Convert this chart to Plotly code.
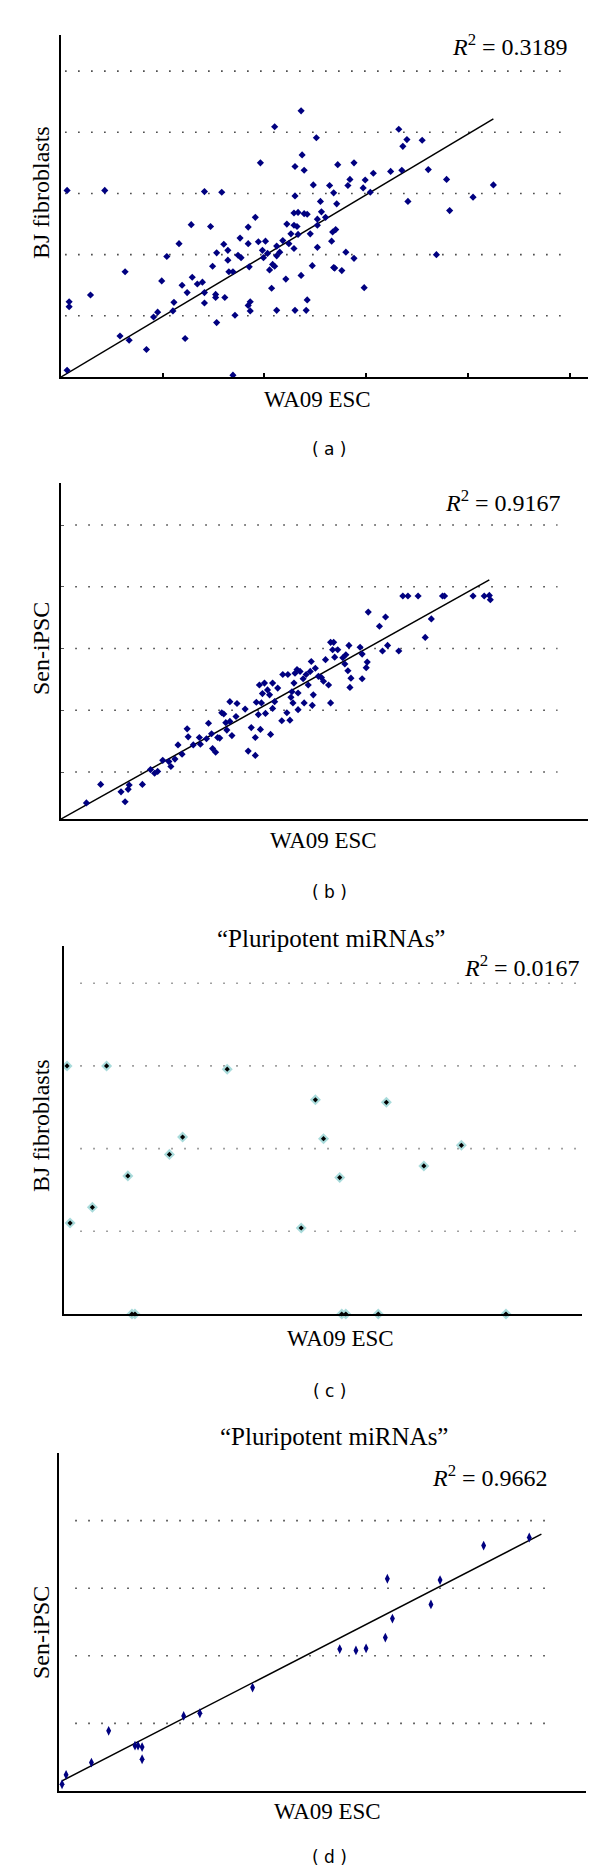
import plotly.graph_objects as go

W, H = 600, 1866

# ---------------- data (arbitrary units) ----------------
# Panel (a): WA09 ESC vs BJ fibroblasts (all miRNAs)
a_x = [0.06, 0.43, 0.08, 0.08, 0.29, 0.06, 0.63, 0.58, 0.67, 0.84, 0.91, 0.95, 0.99, 1.04, 1.10,
       1.11, 1.16, 1.19, 1.22, 1.24, 1.28, 1.29, 1.34, 1.39, 1.41, 1.41, 1.41, 1.47, 1.49, 1.52,
       1.52, 1.53, 1.53, 1.58, 1.60, 1.61, 1.64, 1.64, 1.65, 1.69, 1.69, 1.71, 1.74, 1.77, 1.76,
       1.84, 1.84, 1.85, 1.84, 1.86, 1.86, 1.91, 1.94, 1.96, 1.98, 1.99, 2.01, 2.03, 2.05, 2.07,
       2.08, 2.10, 2.10, 2.12, 2.12, 2.12, 2.15, 2.18, 2.21, 2.22, 2.24, 2.26, 2.29, 2.29, 2.30,
       2.30, 2.29, 2.32, 2.30, 2.33, 2.33, 2.36, 2.37, 2.36, 2.39, 2.39, 2.42, 2.42, 2.41, 2.45,
       2.47, 2.48, 2.51, 2.52, 2.52, 2.52, 2.55, 2.56, 2.60, 2.64, 2.66, 2.67, 2.68, 2.68, 2.69,
       2.70, 2.71, 2.72, 2.76, 2.80, 2.82, 2.84, 2.88, 2.88, 2.97, 2.98, 2.99, 3.04, 3.07, 3.24,
       3.32, 3.35, 3.36, 3.40, 3.41, 3.55, 3.61, 3.69, 3.79, 3.82, 4.05, 4.25]
a_y = [3.05, 3.05, 1.23, 1.15, 1.34, 0.11, 1.72, 0.67, 0.60, 0.45, 0.98, 1.06, 1.57, 1.97, 1.08,
       1.22, 2.18, 1.50, 0.63, 1.38, 2.49, 1.63, 1.52, 1.55, 3.03, 1.38, 1.21, 2.46, 1.81, 1.35,
       1.30, 2.03, 0.89, 3.02, 2.17, 1.30, 2.07, 1.91, 1.72, 1.72, 0.03, 1.01, 1.99, 1.95, 2.27,
       2.18, 2.45, 1.80, 1.17, 1.23, 1.08, 2.61, 2.21, 3.50, 2.07, 1.95, 2.22, 2.02, 1.75, 1.45,
       1.84, 1.81, 4.09, 2.14, 1.98, 1.09, 2.04, 2.23, 1.60, 2.50, 2.18, 2.34, 2.10, 2.48, 3.44,
       2.96, 2.68, 2.46, 1.09, 2.69, 2.33, 4.35, 3.63, 1.66, 3.38, 2.67, 2.66, 1.26, 1.09, 2.34,
       1.82, 3.14, 3.91, 2.58, 2.48, 2.12, 2.87, 2.70, 2.61, 3.13, 2.22, 2.37, 3.01, 1.79, 1.78,
       2.41, 2.83, 3.47, 1.74, 2.04, 3.13, 3.23, 3.50, 1.94, 3.09, 1.46, 3.22, 3.02, 3.33, 3.36,
       4.05, 3.38, 3.77, 3.88, 2.87, 3.87, 3.39, 2.00, 3.23, 2.72, 2.94, 3.14]
a_fit_x = [0.0, 4.25]
a_fit_y = [0.0, 4.22]

# Panel (b): WA09 ESC vs Sen-iPSC (all miRNAs)
b_x = [0.05, 0.25, 0.39, 0.54, 0.59, 0.63, 0.66, 0.67, 0.80, 0.88, 0.92, 0.95, 1.00, 1.06, 1.08,
       1.12, 1.15, 1.19, 1.24, 1.25, 1.30, 1.36, 1.37, 1.43, 1.45, 1.48, 1.49, 1.52, 1.54, 1.56,
       1.58, 1.60, 1.62, 1.63, 1.66, 1.66, 1.68, 1.72, 1.73, 1.81, 1.84, 1.87, 1.91, 1.91, 1.92,
       1.94, 1.95, 1.96, 1.97, 1.98, 2.00, 2.01, 2.03, 2.05, 2.06, 2.08, 2.08, 2.10, 2.13, 2.17,
       2.18, 2.23, 2.22, 2.25, 2.26, 2.27, 2.28, 2.29, 2.30, 2.32, 2.33, 2.33, 2.35, 2.38, 2.39,
       2.41, 2.43, 2.45, 2.46, 2.47, 2.48, 2.50, 2.53, 2.56, 2.58, 2.60, 2.63, 2.65, 2.65, 2.67,
       2.68, 2.69, 2.72, 2.77, 2.79, 2.80, 2.83, 2.82, 2.85, 2.84, 2.94, 2.96, 2.96, 3.00, 3.01,
       3.02, 3.13, 3.16, 3.19, 3.21, 3.32, 3.36, 3.41, 3.51, 3.58, 3.64, 3.75, 3.77, 4.05, 4.16,
       4.21, 4.22]
b_y = [0.21, 0.50, 0.80, 0.20, 0.68, 0.52, 0.72, 0.79, 0.80, 1.04, 0.98, 1.01, 1.19, 1.17, 1.09,
       1.21, 1.44, 1.29, 1.70, 1.57, 1.44, 1.56, 1.45, 1.54, 1.79, 1.62, 1.38, 1.32, 1.56, 1.55,
       1.96, 1.94, 1.80, 1.68, 2.14, 1.82, 1.59, 1.90, 2.11, 2.02, 1.34, 1.72, 1.27, 1.56, 2.13,
       1.93, 2.41, 1.69, 2.12, 2.27, 2.44, 1.95, 2.33, 2.25, 1.61, 2.44, 2.03, 2.14, 2.36, 1.83,
       2.58, 2.58, 1.96, 1.84, 2.21, 2.30, 2.12, 2.44, 2.60, 2.66, 2.28, 2.01, 2.63, 2.51, 2.12,
       2.58, 2.41, 2.63, 2.79, 2.08, 2.25, 2.68, 2.55, 2.53, 2.47, 2.82, 2.41, 3.10, 2.12, 2.98,
       3.10, 2.86, 2.98, 2.85, 2.75, 2.90, 3.05, 2.64, 2.52, 2.37, 3.02, 2.91, 2.51, 2.69, 2.78,
       3.59, 3.36, 2.96, 3.51, 3.05, 2.96, 3.85, 3.85, 3.85, 3.18, 3.48, 3.85, 3.85, 3.85, 3.85,
       3.86, 3.79]
b_fit_x = [0.0, 4.21]
b_fit_y = [0.24, 4.11]

# Panel (c): "Pluripotent miRNAs", WA09 ESC vs BJ fibroblasts
c_x = [0.03, 0.42, 1.61, 2.48, 3.18, 1.17, 2.56, 1.04, 3.92, 3.55, 0.63, 2.72, 0.28, 0.06, 2.34,
       0.67, 0.70, 2.74, 2.78, 3.10, 4.36]
c_y = [3.00, 3.00, 2.96, 2.59, 2.56, 2.14, 2.12, 1.93, 2.04, 1.79, 1.67, 1.65, 1.29, 1.10, 1.04,
       0.00, 0.00, 0.00, 0.00, 0.00, 0.00]

# Panel (d): "Pluripotent miRNAs", WA09 ESC vs Sen-iPSC
d_x = [0.03, 0.07, 0.32, 0.49, 0.75, 0.78, 0.82, 0.82, 1.23, 1.39, 1.91, 2.77, 2.93, 3.03, 3.22,
       3.29, 3.24, 3.67, 3.76, 4.19, 4.64]
d_y = [0.10, 0.24, 0.42, 0.89, 0.67, 0.67, 0.65, 0.47, 1.11, 1.15, 1.53, 2.10, 2.08, 2.11, 2.27,
       2.55, 3.14, 2.76, 3.12, 3.63, 3.75]
d_fit_x = [0.03, 4.76]
d_fit_y = [0.15, 3.80]

a_grid = [1, 2, 3, 4, 5]
b_grid = [1, 2, 3, 4, 5]
c_grid = [1, 2, 3, 4]
d_grid = [1, 2, 3, 4]
a_ticks = [0, 1, 2, 3, 4, 5]

a_r2 = "0.3189"
b_r2 = "0.9167"
c_r2 = "0.0167"
d_r2 = "0.9662"

x_title = "WA09 ESC"
panel_title = "\u201cPluripotent miRNAs\u201d"

# ---------------- layout helpers ----------------
SERIF = "Liberation Serif, Times New Roman, serif"
SANS = "DejaVu Sans, Arial, sans-serif"
NAVY = "#000080"


def pxx(x):
    return x / W


def pyy(y):
    return 1 - y / H


fig = go.Figure()

panels = [
    dict(k="", xd=(53, 580), yd=(27, 369), xr=(0, 5.18), yr=(0, 5.59),
         grid=a_grid, gx=(0.04, 4.98), gcol="#444", ticks=a_ticks, yticks=False,
         r2=a_r2, r2pos=(562, 37), xt=(309, 392), lab="( a )", labpos=(321, 441),
         yt="BJ fibroblasts", ytpos=(33, 185), title=None),
    dict(k="2", xd=(53, 580), yd=(475, 811), xr=(0, 5.18), yr=(0.24, 5.68),
         grid=b_grid, gx=(0.14, 4.88), gcol="#444", ticks=None, yticks=True,
         r2=b_r2, r2pos=(555, 493), xt=(316, 833), lab="( b )", labpos=(321, 884),
         yt="Sen-iPSC", ytpos=(33, 641), title=None),
    dict(k="3", xd=(56, 574), yd=(938, 1306), xr=(0, 5.11), yr=(0, 4.45),
         grid=c_grid, gx=(0.16, 5.09), gcol="#8a8a8a", ticks=None, yticks=False,
         r2=c_r2, r2pos=(574, 958), xt=(332, 1330), lab="( c )", labpos=(321, 1383),
         yt="BJ fibroblasts", ytpos=(33, 1118), title=(323, 930)),
    dict(k="4", xd=(51, 578), yd=(1445, 1783), xr=(0, 5.2), yr=(0, 5.0),
         grid=d_grid, gx=(0.16, 4.84), gcol="#444", ticks=None, yticks=False,
         r2=d_r2, r2pos=(542, 1468), xt=(319, 1803), lab="( d )", labpos=(321, 1849),
         yt="Sen-iPSC", ytpos=(33, 1625), title=(326, 1428)),
]

series = [
    (a_x, a_y, a_fit_x, a_fit_y),
    (b_x, b_y, b_fit_x, b_fit_y),
    (c_x, c_y, None, None),
    (d_x, d_y, d_fit_x, d_fit_y),
]

annotations = []
shapes = []

for i, (p, (sx, sy, fx, fy)) in enumerate(zip(panels, series)):
    k = p["k"]
    xa, ya = "x" + k, "y" + k
    xkey, ykey = "xaxis" + k, "yaxis" + k

    # gridlines (dotted), limited extent
    for g in p["grid"]:
        shapes.append(dict(type="line", xref=xa, yref=ya, x0=p["gx"][0], x1=p["gx"][1],
                           y0=g, y1=g, line=dict(color=p["gcol"], width=1.6, dash="1.6px,11.4px"),
                           layer="below"))

    if fx is not None:
        fig.add_trace(go.Scatter(x=fx, y=fy, mode="lines", xaxis=xa, yaxis=ya,
                                 line=dict(color="black", width=1.5), showlegend=False,
                                 hoverinfo="skip"))

    if i == 2:
        fig.add_trace(go.Scatter(x=sx, y=sy, mode="markers", xaxis=xa, yaxis=ya,
                                 marker=dict(symbol="diamond", size=8.5, color="#a9dbdb",
                                             line=dict(width=0)),
                                 cliponaxis=False, showlegend=False))
        fig.add_trace(go.Scatter(x=sx, y=sy, mode="markers", xaxis=xa, yaxis=ya,
                                 marker=dict(symbol="diamond", size=4, color="black",
                                             line=dict(width=0)),
                                 cliponaxis=False, showlegend=False))
    elif i == 3:
        fig.add_trace(go.Scatter(x=sx, y=sy, mode="markers", xaxis=xa, yaxis=ya,
                                 marker=dict(symbol="diamond-tall", size=7, color=NAVY,
                                             line=dict(width=0)),
                                 cliponaxis=False, showlegend=False))
    else:
        fig.add_trace(go.Scatter(x=sx, y=sy, mode="markers", xaxis=xa, yaxis=ya,
                                 marker=dict(symbol="diamond", size=5.5, color=NAVY,
                                             line=dict(width=0)),
                                 cliponaxis=False, showlegend=False))

    xaxis = dict(domain=[pxx(p["xd"][0]), pxx(p["xd"][1])], range=list(p["xr"]),
                 anchor=ya, showgrid=False, zeroline=False, showline=True,
                 linecolor="black", linewidth=2, showticklabels=False, fixedrange=True)
    if p["ticks"] is not None:
        xaxis.update(ticks="inside", tickvals=p["ticks"], ticklen=4, tickwidth=2,
                     tickcolor="black")
    else:
        xaxis.update(ticks="")
    yaxis = dict(domain=[pyy(p["yd"][1]), pyy(p["yd"][0])], range=list(p["yr"]),
                 anchor=xa, showgrid=False, zeroline=False, showline=True,
                 linecolor="black", linewidth=2, showticklabels=False,
                 fixedrange=True)
    if p["yticks"]:
        yaxis.update(ticks="inside", tickvals=p["grid"], ticklen=3, tickwidth=1,
                     tickcolor="#555")
    else:
        yaxis.update(ticks="")
    fig.update_layout({xkey: xaxis, ykey: yaxis})

    # annotations
    annotations.append(dict(xref="paper", yref="paper", x=pxx(p["r2pos"][0]), y=pyy(p["r2pos"][1]),
                            xanchor="right", yanchor="middle", showarrow=False,
                            text="<i>R</i><sup>2</sup> = " + p["r2"],
                            font=dict(family=SERIF, size=24, color="black")))
    annotations.append(dict(xref="paper", yref="paper", x=pxx(p["xt"][0]), y=pyy(p["xt"][1]),
                            xanchor="center", yanchor="middle", showarrow=False,
                            text=x_title, font=dict(family=SERIF, size=23, color="black")))
    annotations.append(dict(xref="paper", yref="paper", x=pxx(p["labpos"][0]), y=pyy(p["labpos"][1]),
                            xanchor="center", yanchor="middle", showarrow=False,
                            text=p["lab"], font=dict(family=SANS, size=17, color="black")))
    annotations.append(dict(xref="paper", yref="paper", x=pxx(p["ytpos"][0]), y=pyy(p["ytpos"][1]),
                            xanchor="center", yanchor="middle", showarrow=False, textangle=-90,
                            text=p["yt"], font=dict(family=SERIF, size=24, color="black")))
    if p["title"] is not None:
        annotations.append(dict(xref="paper", yref="paper", x=pxx(p["title"][0]), y=pyy(p["title"][1]),
                                xanchor="center", yanchor="middle", showarrow=False,
                                text=panel_title, font=dict(family=SERIF, size=25, color="black")))

fig.update_layout(width=W, height=H, margin=dict(l=0, r=0, t=0, b=0),
                  paper_bgcolor="white", plot_bgcolor="white",
                  annotations=annotations, shapes=shapes, showlegend=False)

fig.write_html("out.html")
